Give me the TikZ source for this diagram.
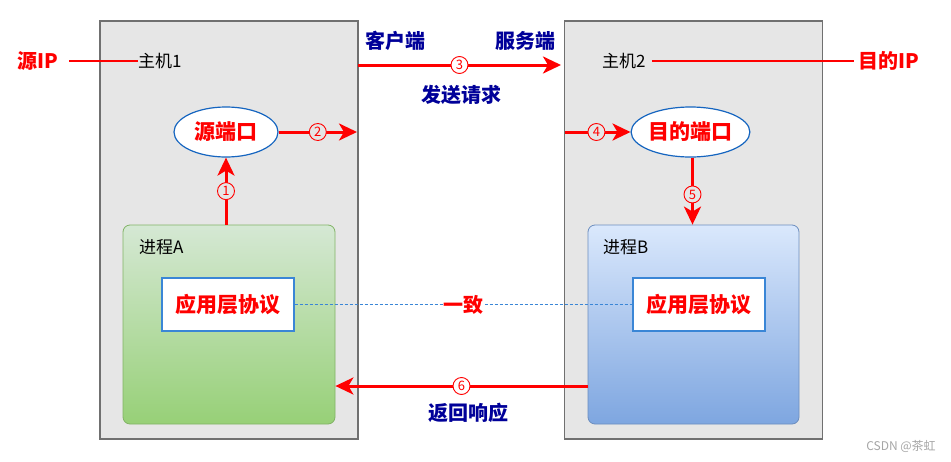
\documentclass[tikz,border=0pt]{standalone}
\usepackage{fontspec}
\setmainfont{Noto Sans CJK SC}
\usetikzlibrary{arrows.meta,shapes.geometric}
\definecolor{hostgray}{HTML}{E6E6E6}
\definecolor{hostborder}{HTML}{707070}
\definecolor{navy}{HTML}{000099}
\definecolor{gtop}{HTML}{D5E8D4}
\definecolor{gbot}{HTML}{97D077}
\definecolor{gborder}{HTML}{82B366}
\definecolor{btop}{HTML}{DAE8FC}
\definecolor{bbot}{HTML}{7EA6E0}
\definecolor{bborder}{HTML}{6C8EBF}
\definecolor{appblue}{HTML}{3A86D6}
\definecolor{ellblue}{HTML}{1565C0}
\definecolor{pure}{HTML}{FF0000}
\tikzset{
  hostbox/.style={draw=hostborder, fill=hostgray, line width=1.2pt, minimum width=258pt, minimum height=418pt, inner sep=0pt},
  procA/.style={draw=gborder, top color=gtop, bottom color=gbot, rounded corners=7pt, minimum width=212pt, minimum height=199pt, line width=0.8pt, inner sep=0pt},
  procB/.style={draw=bborder, top color=btop, bottom color=bbot, rounded corners=7pt, minimum width=211pt, minimum height=199pt, line width=0.8pt, inner sep=0pt},
  appbox/.style={draw=appblue, fill=white, line width=1.2pt, minimum width=132pt, minimum height=53pt, inner sep=0pt, text=pure, font=\fontsize{21}{24}\selectfont\bfseries},
  portell/.style={ellipse, draw=ellblue, fill=white, line width=1.2pt, minimum width=104pt, minimum height=50pt, inner sep=0pt, text=pure, font=\fontsize{21}{24}\selectfont\bfseries},
  redlbl/.style={text=pure, font=\fontsize{20}{24}\selectfont\bfseries},
  navylbl/.style={text=navy, font=\fontsize{20}{24}\selectfont\bfseries},
  plainlbl/.style={text=black, font=\fontsize{17}{20}\selectfont, inner sep=0pt},
  redarrow/.style={draw=pure, line width=3pt, -{Stealth[length=18pt,width=17pt,inset=5pt]}},
  numc/.style={circle, draw=pure, text=pure, line width=0.9pt, minimum size=17pt, inner sep=0pt, font=\fontsize{13}{13}\selectfont},
  ipline/.style={draw=pure, line width=2pt},
}
\begin{document}
\begin{tikzpicture}[x=1pt,y=-1pt]
\useasboundingbox (0,0) rectangle (951,461);
\fill[white] (0,0) rectangle (951,461);

% hosts
\node[hostbox] (h1) at (229,230) {};
\node[hostbox] (h2) at (693.5,230) {};

% processes
\node[procA] (pa) at (229,324.5) {};
\node[procB] (pb) at (693.5,324.5) {};
\node[plainlbl, anchor=west] (pal) at (139,247) {进程A};
\node[plainlbl, anchor=west] (pbl) at (603,247) {进程B};

% application protocol boxes
\node[appbox] (appA) at (228,304.5) {应用层协议};
\node[appbox] (appB) at (699,304.5) {应用层协议};

% ports
\node[portell] (src) at (226,132) {源端口};
\node[portell] (dst) at (690.5,132) {目的端口};

% host labels and IP
\node[plainlbl, anchor=west] (h1l) at (138,61) {主机1};
\node[plainlbl, anchor=west] (h2l) at (602,61) {主机2};
\node[redlbl, anchor=west, inner sep=0pt] (sip) at (17,61) {源IP};
\node[redlbl, anchor=west, inner sep=0pt] (dip) at (858,61) {目的IP};
\draw[ipline] ([xshift=11pt]sip.east) -- (h1l.west);
\draw[ipline] ([xshift=6pt]h2l.east) -- ([xshift=-4pt]dip.west);

% coordinates
\coordinate (a3s) at (358,65);
\coordinate (a3e) at (561,65);
\coordinate (a2e) at (357,132);
\coordinate (a4s) at (565,132);
\coordinate (y6) at (0,386);

% arrows
\draw[redarrow] (src.south |- pa.north) -- node[numc, fill=hostgray, pos=0.5]{1} (src.south);
\draw[redarrow] (src.east) -- node[numc, fill=hostgray, pos=0.5]{2} (a2e);
\draw[redarrow] (a3s) -- node[numc, fill=white, pos=0.5]{3} (a3e);
\draw[redarrow] (a4s) -- node[numc, fill=hostgray, pos=0.48]{4} (dst.west);
\draw[redarrow] ([xshift=2pt]dst.south) -- node[numc, fill=hostgray, pos=0.55]{5} ([xshift=2pt]dst.south |- pb.north);
\draw[redarrow] (pb.west |- y6) -- node[numc, fill=white, pos=0.5]{6} (pa.east |- y6);

% consistency line
\draw[draw=appblue, line width=0.8pt, dash pattern=on 3pt off 2pt] (appA.east) -- node[fill=white, text=pure, font=\fontsize{20}{24}\selectfont\bfseries, inner sep=1pt, pos=0.5]{一致} (appB.west);

% blue labels
\node[navylbl] (cl) at (395,41) {客户端};
\node[navylbl] (sv) at (525,41) {服务端};
\node[navylbl] (req) at (461,95) {发送请求};
\node[navylbl] (resp) at (468,413) {返回响应};

% watermark text
\node[text=gray!70, font=\fontsize{12}{14}\selectfont] (wm) at (901,446) {CSDN @茶虹};
\end{tikzpicture}
\end{document}
